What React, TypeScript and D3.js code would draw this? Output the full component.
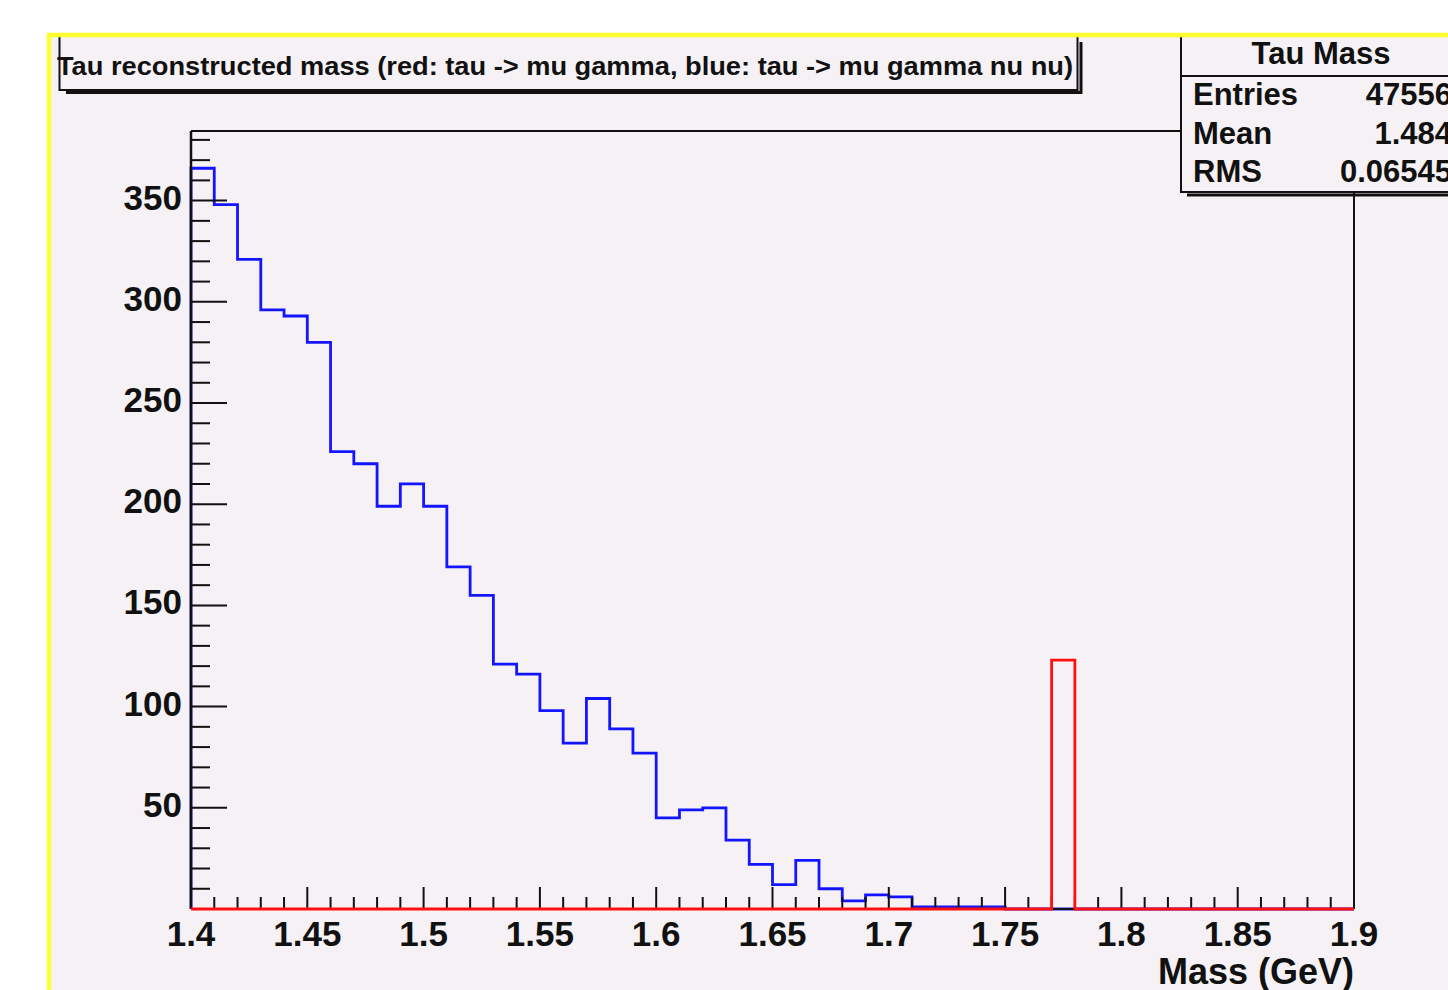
import React from "react";
import * as d3 from "d3";

// ---- data ----
const binEdgesStart = 1.4;
const binWidth = 0.01;
const blueCounts = [
  366, 348, 321, 296, 293, 280, 226, 220, 199, 210,
  199, 169, 155, 121, 116, 98, 82, 104, 89, 77,
  45, 49, 50, 34, 22, 12, 24, 10, 4, 7,
  6, 1, 1, 1, 1, 0, 0, 0, 0, 0,
  0, 0, 0, 0, 0, 0, 0, 0, 0, 0,
];
const redCounts = [
  0, 0, 0, 0, 0, 0, 0, 0, 0, 0,
  0, 0, 0, 0, 0, 0, 0, 0, 0, 0,
  0, 0, 0, 0, 0, 0, 0, 0, 0, 0,
  0, 0, 0, 0, 0, 0, 0, 123, 0, 0,
  0, 0, 0, 0, 0, 0, 0, 0, 0, 0,
];
const xTickValues = [1.4, 1.45, 1.5, 1.55, 1.6, 1.65, 1.7, 1.75, 1.8, 1.85, 1.9];
const xTickLabels = ["1.4", "1.45", "1.5", "1.55", "1.6", "1.65", "1.7", "1.75", "1.8", "1.85", "1.9"];
const yTickValues = [50, 100, 150, 200, 250, 300, 350];
const yTickLabels = ["50", "100", "150", "200", "250", "300", "350"];
const titleText = "Tau reconstructed mass (red: tau -> mu gamma, blue: tau -> mu gamma nu nu)";
const statsTitle = "Tau Mass";
const statsNames = ["Entries", "Mean", "RMS"];
const statsValues = ["47556", "1.484", "0.06545"];
const xAxisTitle = "Mass (GeV)";

const FONT = "'Liberation Sans', Arial, Helvetica, sans-serif";

function stepPath(counts: number[], x: d3.ScaleLinear<number, number>, y: d3.ScaleLinear<number, number>) {
  const pts: [number, number][] = [];
  pts.push([x(binEdgesStart), y(0)]);
  counts.forEach((c, i) => {
    const x0 = binEdgesStart + i * binWidth;
    const x1 = binEdgesStart + (i + 1) * binWidth;
    pts.push([x(x0), y(c)]);
    pts.push([x(x1), y(c)]);
  });
  pts.push([x(binEdgesStart + counts.length * binWidth), y(0)]);
  return d3.line()(pts) || "";
}

export default function App() {
  const left = 191, right = 1354, top = 131, bottom = 909;
  const x = d3.scaleLinear().domain([1.4, 1.9]).range([left, right]);
  const y = d3.scaleLinear().domain([0, 384.4]).range([bottom, top]);

  const xMinor = d3.range(0, 51).map((i) => 1.4 + i * 0.01).filter((_, i) => i % 5 !== 0);
  const yMinor = d3.range(1, 39).map((i) => i * 10).filter((v) => v % 50 !== 0);

  const redPath = stepPath(redCounts, x, y);
  const bluePath = stepPath(blueCounts, x, y);

  const statsLeft = 1181, statsBottom = 192, statsSep = 76;

  return (
    <svg width={1448} height={990} style={{ position: "absolute", left: 0, top: 0, display: "block" }}>
      <rect x={0} y={0} width={1448} height={990} fill="#ffffff" />
      <rect x={49} y={35} width={1420} height={980} fill="#f5f1f5" />

      {/* frame top and right */}
      <line x1={left} y1={top} x2={statsLeft} y2={top} stroke="#111" strokeWidth={2} />
      <line x1={right} y1={statsBottom} x2={right} y2={bottom} stroke="#111" strokeWidth={2} />

      {/* blue histogram */}
      <path d={bluePath} fill="none" stroke="#1414ff" strokeWidth={2.8} strokeLinejoin="miter" />

      {/* y axis */}
      <line x1={left} y1={top} x2={left} y2={bottom} stroke="#111" strokeWidth={2.5} />
      {yMinor.map((v) => (
        <line key={"ym" + v} x1={left} x2={left + 19} y1={y(v)} y2={y(v)} stroke="#111" strokeWidth={2} />
      ))}
      {yTickValues.map((v, i) => (
        <g key={"yt" + v}>
          <line x1={left} x2={left + 36} y1={y(v)} y2={y(v)} stroke="#111" strokeWidth={2} />
          <text x={182} y={y(v) + 9} textAnchor="end" fontFamily={FONT} fontWeight="bold" fontSize={35} fill="#111">
            {yTickLabels[i]}
          </text>
        </g>
      ))}

      {/* x axis */}
      <line x1={left} y1={bottom} x2={right} y2={bottom} stroke="#111" strokeWidth={2} />
      {xMinor.map((v, i) => (
        <line key={"xm" + i} x1={x(v)} x2={x(v)} y1={bottom} y2={bottom - 12} stroke="#111" strokeWidth={2} />
      ))}
      {xTickValues.map((v, i) => (
        <g key={"xt" + i}>
          <line x1={x(v)} x2={x(v)} y1={bottom} y2={bottom - 22} stroke="#111" strokeWidth={2} />
          <text x={x(v)} y={946} textAnchor="middle" fontFamily={FONT} fontWeight="bold" fontSize={35} fill="#111">
            {xTickLabels[i]}
          </text>
        </g>
      ))}
      <text x={right} y={984} textAnchor="end" fontFamily={FONT} fontWeight="bold" fontSize={36} fill="#111">
        {xAxisTitle}
      </text>

      {/* red histogram */}
      <path d={redPath} fill="none" stroke="#ff1010" strokeWidth={2.8} strokeLinejoin="miter" />

      {/* title box */}
      <polyline points="66,92.5 1081,92.5 1081,42" fill="none" stroke="#111" strokeWidth={3} />
      <rect x={59.5} y={36} width={1018} height={54} fill="#f5f1f5" stroke="#111" strokeWidth={2} />
      <text x={57} y={75} fontFamily={FONT} fontWeight="bold" fontSize={25} fill="#111" textLength={1016} lengthAdjust="spacingAndGlyphs">
        {titleText}
      </text>

      {/* stats box */}
      <polyline points={`1187,${statsBottom + 3} 1460,${statsBottom + 3}`} fill="none" stroke="#111" strokeWidth={3} />
      <rect x={statsLeft} y={36} width={300} height={statsBottom - 36} fill="#f5f1f5" stroke="#111" strokeWidth={2} />
      <line x1={statsLeft} x2={1460} y1={statsSep} y2={statsSep} stroke="#111" strokeWidth={2} />
      <text x={1321} y={64} textAnchor="middle" fontFamily={FONT} fontWeight="bold" fontSize={31} fill="#111">
        {statsTitle}
      </text>
      {statsNames.map((n, i) => (
        <g key={"st" + i}>
          <text x={1193} y={105 + i * 38.5} fontFamily={FONT} fontWeight="bold" fontSize={31} fill="#111">
            {n}
          </text>
          <text x={1452} y={105 + i * 38.5} textAnchor="end" fontFamily={FONT} fontWeight="bold" fontSize={31} fill="#111">
            {statsValues[i]}
          </text>
        </g>
      ))}

      {/* white outside canvas and yellow canvas border */}
      <rect x={0} y={0} width={1448} height={33} fill="#ffffff" />
      <rect x={0} y={0} width={47} height={990} fill="#ffffff" />
      <line x1={47} y1={35} x2={1448} y2={35} stroke="#ffff30" strokeWidth={4.5} />
      <line x1={49} y1={33} x2={49} y2={990} stroke="#ffff30" strokeWidth={4.5} />
    </svg>
  );
}
